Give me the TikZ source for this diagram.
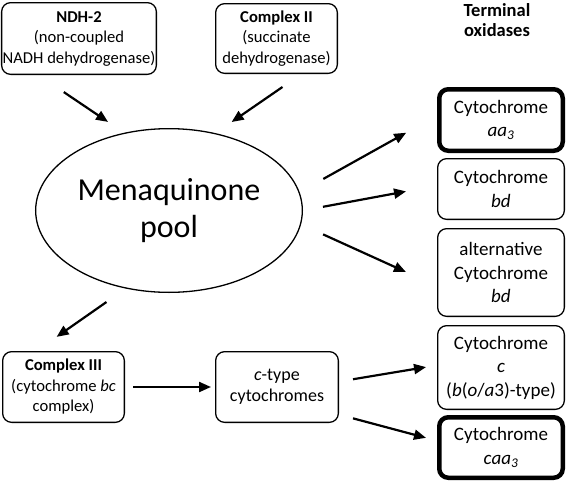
\documentclass[tikz,border=0pt]{standalone}
\usepackage{fontspec}
\setmainfont{Carlito}
\usetikzlibrary{arrows.meta,shapes.geometric}

\tikzset{
    lbox/.style={draw, rounded corners=9pt, line width=1.3pt, align=center, inner sep=1pt,
        font=\fontsize{16.6}{20.5}\selectfont},
    oxbox/.style={draw, rounded corners=9pt, line width=1.3pt, align=center, inner sep=1pt,
        minimum width=126.7pt, font=\fontsize{19}{23.5}\selectfont},
    thickbox/.style={oxbox, line width=4.5pt, minimum width=123.5pt},
    poolshape/.style={draw, ellipse, line width=1.3pt, align=center, inner sep=0pt,
        minimum width=266.7pt, minimum height=163.7pt, font=\fontsize{32}{37}\selectfont},
    arr/.style={-{Triangle[length=12pt,width=10pt]}, line width=2.2pt},
}

\begin{document}
\begin{tikzpicture}[x=1pt,y=-1pt]
    \useasboundingbox (0,0) rectangle (566,482);

    % electron donors
    \node[lbox, minimum width=154.7pt, minimum height=71.7pt] (ndh) at (79,38.5)
        {\textbf{NDH-2}\\(non-coupled\\NADH dehydrogenase)};
    \node[lbox, minimum width=121.7pt, minimum height=69.7pt] (cII) at (276.5,38.5)
        {\textbf{Complex II}\\(succinate\\dehydrogenase)};

    \node[poolshape] (pool) at (169,210.5) {Menaquinone\\pool};

    \node[align=center, font=\bfseries\fontsize{18.5}{20}\selectfont] (term) at (497,20)
        {Terminal\\oxidases};

    % terminal oxidases
    \node[thickbox, minimum height=61.5pt] (aa3) at (501,120) {Cytochrome\\\textit{aa\textsubscript{3}}};
    \node[oxbox, minimum height=60.7pt] (bd) at (501,189) {Cytochrome\\\textit{bd}};
    \node[oxbox, minimum height=87.7pt] (altbd) at (501,272.5) {alternative\\Cytochrome\\\textit{bd}};
    \node[oxbox, minimum height=83.7pt] (cyt) at (501,367.5)
        {Cytochrome\\\textit{c}\\(\textit{b}(\textit{o}/\textit{a}3)-type)};
    \node[thickbox, minimum height=60.5pt] (caa3) at (501,447.5) {Cytochrome\\\textit{caa\textsubscript{3}}};

    % bc branch
    \node[lbox, minimum width=121.7pt, minimum height=70.7pt] (cIII) at (63.5,387)
        {\textbf{Complex III}\\(cytochrome \textit{bc}\\complex)};
    \node[lbox, minimum width=122.7pt, minimum height=70.7pt, font=\fontsize{18}{21}\selectfont] (ctype) at (277,387)
        {\textit{c}-type\\cytochromes};

    \draw[arr, shorten <=30.6pt, shorten >=19.4pt] (ndh.-138.7) -- (pool.120);
    \draw[arr, shorten <=22.9pt, shorten >=19.6pt] (cII.-55.5) -- (pool.59.4);

    \draw[arr, shorten <=27.1pt, shorten >=35.3pt] (pool.8.6) -- (aa3.176.6);
    \draw[arr, shorten <=20.3pt, shorten >=31.5pt] (pool.0) -- (bd.177.7);
    \draw[arr, shorten <=24.2pt, shorten >=34.1pt] (pool.-6.2) -- (altbd.192.9);

    \draw[arr, shorten <=23.5pt, shorten >=24.7pt] (pool.241.4) -- (cIII.127.8);
    \draw[arr, shorten <=8pt, shorten >=4pt] (cIII.east) -- (ctype.west);

    \draw[arr, shorten <=14.2pt, shorten >=11.1pt] (ctype.5.4) -- (cyt.178.9);
    \draw[arr, shorten <=14.5pt, shorten >=11.4pt] (ctype.-24.6) -- (caa3.174.1);
\end{tikzpicture}
\end{document}
